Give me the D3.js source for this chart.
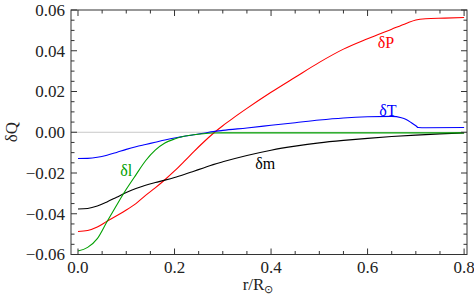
<!DOCTYPE html>
<html><head><meta charset="utf-8">
<script src="https://cdn.jsdelivr.net/npm/d3@7"></script>
<style>body{margin:0;background:#fff}svg{display:block}svg text{font-family:"Liberation Serif","Times New Roman",serif}</style>
</head><body><svg id="c" width="474" height="300"></svg>
<script>
const dP = [[0,-0.0487],[0.02,-0.0482],[0.04,-0.0465],[0.06,-0.0437],[0.08,-0.041],[0.1,-0.0382],[0.12,-0.035],[0.14,-0.031],[0.16,-0.0273],[0.18,-0.0233],[0.2,-0.019],[0.22,-0.0143],[0.24,-0.0095],[0.26,-0.0049],[0.28,-0.0006],[0.3,0.0032],[0.32,0.0067],[0.35,0.0117],[0.4,0.0196],[0.45,0.027],[0.5,0.0343],[0.55,0.0408],[0.6,0.0459],[0.65,0.0506],[0.68,0.0534],[0.7,0.0551],[0.72,0.0557],[0.76,0.056],[0.8,0.0563]];
const dT = [[0,-0.0129],[0.02,-0.0128],[0.04,-0.0123],[0.06,-0.0113],[0.08,-0.0099],[0.1,-0.0084],[0.12,-0.0071],[0.14,-0.006],[0.16,-0.0049],[0.18,-0.0038],[0.2,-0.0028],[0.22,-0.002],[0.24,-0.0012],[0.26,-0.0005],[0.28,0.0003],[0.3,0.0009],[0.35,0.0021],[0.4,0.0034],[0.45,0.0047],[0.5,0.006],[0.55,0.007],[0.6,0.0076],[0.65,0.0078],[0.67,0.0071],[0.68,0.0062],[0.69,0.0048],[0.7,0.0032],[0.705,0.0023],[0.72,0.0022],[0.8,0.0023]];
const dl = [[0,-0.0583],[0.02,-0.0565],[0.04,-0.0522],[0.06,-0.0439],[0.08,-0.0358],[0.1,-0.028],[0.12,-0.0209],[0.14,-0.014],[0.16,-0.0088],[0.18,-0.0053],[0.2,-0.0033],[0.22,-0.002],[0.24,-0.0012],[0.26,-0.0007],[0.28,-0.0004],[0.3,-0.0003],[0.4,-0.0003],[0.8,-0.0003]];
const dm = [[0,-0.0377],[0.02,-0.0374],[0.04,-0.0362],[0.06,-0.0342],[0.08,-0.0319],[0.1,-0.0296],[0.12,-0.0276],[0.14,-0.026],[0.16,-0.0247],[0.18,-0.0235],[0.2,-0.0222],[0.22,-0.0207],[0.24,-0.0191],[0.26,-0.0175],[0.28,-0.0159],[0.3,-0.0145],[0.35,-0.0114],[0.4,-0.0088],[0.45,-0.0068],[0.5,-0.0052],[0.55,-0.004],[0.6,-0.003],[0.65,-0.0021],[0.7,-0.0014],[0.75,-0.0008],[0.8,-0.0003]];
const xTicks = [0,0.2,0.4,0.6,0.8];
const xTickLabels = ["0.0","0.2","0.4","0.6","0.8"];
const yTicks = [-0.06,-0.04,-0.02,0,0.02,0.04,0.06];
const yTickLabels = ["\u22120.06","\u22120.04","\u22120.02","0.00","0.02","0.04","0.06"];
const series = [
  {name:"\u03b4P", data:dP, color:"#ff0000", lx:0.638, ly:0.0441},
  {name:"\u03b4T", data:dT, color:"#0000ff", lx:0.642, ly:0.0108},
  {name:"\u03b4m", data:dm, color:"#000000", lx:0.388, ly:-0.0151},
  {name:"\u03b4l", data:dl, color:"#00a000", lx:0.1, ly:-0.0185}
];

const svg = d3.select("#c");
const L=71,R=467,T=10,B=254.5;
const x = d3.scaleLinear().domain([-0.0145,0.806]).range([L,R]);
const y = d3.scaleLinear().domain([-0.06,0.06]).range([B,T]);
const ink="#333";

svg.append("line").attr("x1",L).attr("x2",R).attr("y1",y(0)).attr("y2",y(0)).attr("stroke","#c8c8c8").attr("stroke-width",1);

const line = d3.line().x(d=>x(d[0])).y(d=>y(d[1])).curve(d3.curveMonotoneX);
const g = svg.append("g");
series.forEach(s=>{
  g.append("path").attr("d",line(s.data)).attr("fill","none").attr("stroke",s.color).attr("stroke-width",1.1);
});

svg.append("rect").attr("x",L).attr("y",T).attr("width",R-L).attr("height",B-T).attr("fill","none").attr("stroke",ink).attr("stroke-width",1);

const xMinor = d3.range(0,0.8001,0.05).filter(v=>!xTicks.some(t=>Math.abs(t-v)<1e-6));
const yMinor = d3.range(-0.06,0.0601,0.005).filter(v=>!yTicks.some(t=>Math.abs(t-v)<1e-6));
const tk = svg.append("g").attr("stroke",ink).attr("stroke-width",1);
xTicks.forEach(v=>{tk.append("line").attr("x1",x(v)).attr("x2",x(v)).attr("y1",B).attr("y2",B-6);tk.append("line").attr("x1",x(v)).attr("x2",x(v)).attr("y1",T).attr("y2",T+6);});
xMinor.forEach(v=>{tk.append("line").attr("x1",x(v)).attr("x2",x(v)).attr("y1",B).attr("y2",B-3.5);tk.append("line").attr("x1",x(v)).attr("x2",x(v)).attr("y1",T).attr("y2",T+3.5);});
yTicks.forEach(v=>{tk.append("line").attr("y1",y(v)).attr("y2",y(v)).attr("x1",L).attr("x2",L+6);tk.append("line").attr("y1",y(v)).attr("y2",y(v)).attr("x1",R).attr("x2",R-6);});
yMinor.forEach(v=>{tk.append("line").attr("y1",y(v)).attr("y2",y(v)).attr("x1",L).attr("x2",L+3.5);tk.append("line").attr("y1",y(v)).attr("y2",y(v)).attr("x1",R).attr("x2",R-3.5);});

const fs=17;
const txt = (sel)=>sel.append("text");
xTicks.forEach((v,i)=>txt(svg).attr("x",x(v)).attr("y",273).attr("text-anchor","middle").attr("font-size",fs).attr("fill","#222").text(xTickLabels[i]));
yTicks.forEach((v,i)=>txt(svg).attr("x",65).attr("y",y(v)).attr("dy","0.35em").attr("text-anchor","end").attr("font-size",fs).attr("fill","#222").text(yTickLabels[i]));

txt(svg).attr("transform","translate(17,132) rotate(-90)").attr("text-anchor","middle").attr("font-size",fs).attr("fill","#222").text("\u03b4Q");
const xl = txt(svg).attr("x",258).attr("y",290).attr("text-anchor","middle").attr("font-size",fs).attr("fill","#222");
xl.append("tspan").text("r/R");
xl.append("tspan").attr("font-size",11).attr("dy",3).text("\u2299");

series.forEach(s=>{
  txt(svg).attr("x",x(s.lx)).attr("y",y(s.ly)).attr("dy","0.35em").attr("text-anchor","middle").attr("font-size",16).attr("fill",s.color).text(s.name);
});
</script></body></html>
